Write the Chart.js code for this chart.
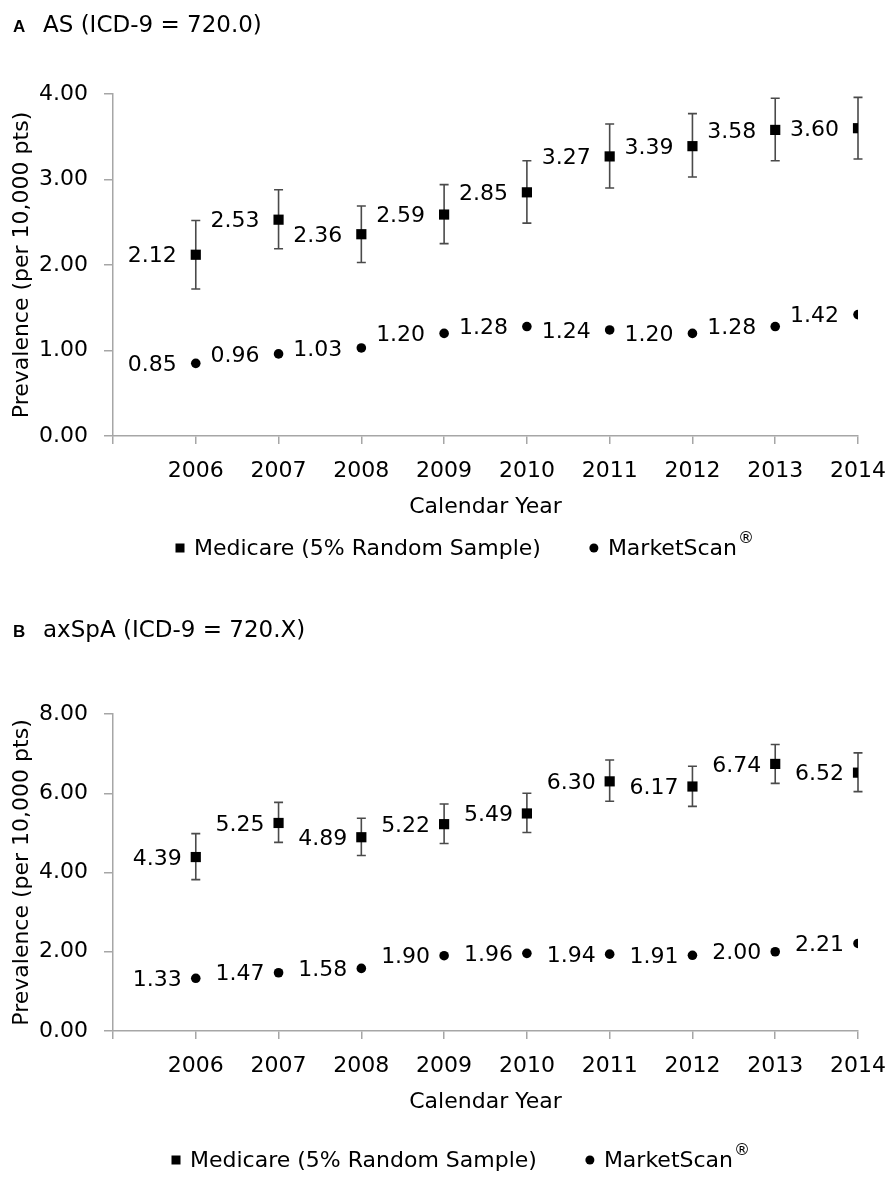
<!DOCTYPE html>
<html>
<head>
<meta charset="utf-8">
<title>Prevalence of AS and axSpA, 2006–2014</title>
<script src="https://cdn.jsdelivr.net/npm/chart.js@4.4.1/dist/chart.umd.min.js"></script>
<style>
  html, body { margin: 0; padding: 0; background: #ffffff; }
  .panel { position: absolute; left: 0; width: 896px; }
  #panelA { top: 0; height: 600px; }
  #panelB { top: 600px; height: 586px; }
  canvas { display: block; }
</style>
</head>
<body>
<div class="panel" id="panelA"><canvas id="chartA" width="896" height="600"></canvas></div>
<div class="panel" id="panelB"><canvas id="chartB" width="896" height="586"></canvas></div>

<script>
// Calendar years shown on the x axis
const years = [2006, 2007, 2008, 2009, 2010, 2011, 2012, 2013, 2014];

// Panel A: AS (ICD-9 = 720.0), prevalence per 10,000 patients
const asMedicare      = [2.12, 2.53, 2.36, 2.59, 2.85, 3.27, 3.39, 3.58, 3.60];
const asMedicareLow   = [1.72, 2.19, 2.03, 2.25, 2.49, 2.90, 3.03, 3.22, 3.24];
const asMedicareHigh  = [2.52, 2.88, 2.69, 2.94, 3.22, 3.65, 3.77, 3.95, 3.96];
const asMarketScan    = [0.85, 0.96, 1.03, 1.20, 1.28, 1.24, 1.20, 1.28, 1.42];
const asYTicks        = [0, 1, 2, 3, 4];

// Panel B: axSpA (ICD-9 = 720.X), prevalence per 10,000 patients
const axMedicare      = [4.39, 5.25, 4.89, 5.22, 5.49, 6.30, 6.17, 6.74, 6.52];
const axMedicareLow   = [3.82, 4.76, 4.43, 4.73, 5.01, 5.80, 5.67, 6.25, 6.04];
const axMedicareHigh  = [4.98, 5.77, 5.37, 5.73, 6.00, 6.84, 6.68, 7.23, 7.02];
const axMarketScan    = [1.33, 1.47, 1.58, 1.90, 1.96, 1.94, 1.91, 2.00, 2.21];
const axYTicks        = [0, 2, 4, 6, 8];

const seriesNames = ['Medicare (5% Random Sample)', 'MarketScan'];

const FONT = "'DejaVu Sans', Verdana, sans-serif";
const AXIS_GREY = '#a6a6a6';
Chart.defaults.font.family = FONT;
Chart.defaults.font.size = 22;
Chart.defaults.color = '#000000';

// Vertical confidence bars with short caps, drawn underneath the markers
const errorBars = {
  id: 'errorBars',
  beforeDatasetsDraw(chart) {
    const { ctx, scales: { x, y } } = chart;
    chart.data.datasets.forEach(ds => {
      if (!ds.ciLow) return;
      ctx.save();
      ctx.strokeStyle = '#4a4a4a';
      ctx.lineWidth = 1.6;
      ds.data.forEach((p, i) => {
        const px = x.getPixelForValue(p.x);
        const yLo = y.getPixelForValue(ds.ciLow[i]);
        const yHi = y.getPixelForValue(ds.ciHigh[i]);
        ctx.beginPath();
        ctx.moveTo(px, yLo); ctx.lineTo(px, yHi);
        ctx.moveTo(px - 4.5, yLo); ctx.lineTo(px + 4.5, yLo);
        ctx.moveTo(px - 4.5, yHi); ctx.lineTo(px + 4.5, yHi);
        ctx.stroke();
      });
      ctx.restore();
    });
  }
};

// Value written to the left of every marker
const valueLabels = {
  id: 'valueLabels',
  afterDatasetsDraw(chart, args, opts) {
    const { ctx, scales: { x, y } } = chart;
    ctx.save();
    ctx.font = '22px ' + FONT;
    ctx.fillStyle = '#000';
    ctx.textAlign = 'right';
    ctx.textBaseline = 'middle';
    chart.data.datasets.forEach(ds => {
      ds.data.forEach(p => {
        ctx.fillText(p.y.toFixed(2), x.getPixelForValue(p.x) - opts.gap, y.getPixelForValue(p.y) + 2);
      });
    });
    ctx.restore();
  }
};

// Panel letter and heading above the plot
const panelTitle = {
  id: 'panelTitle',
  afterDraw(chart, args, opts) {
    const { ctx } = chart;
    ctx.save();
    ctx.fillStyle = '#000';
    ctx.textAlign = 'left';
    ctx.textBaseline = 'alphabetic';
    ctx.font = "bold 17px 'Liberation Sans', Arial, sans-serif";
    ctx.fillText(opts.letter, 13, opts.baseline);
    ctx.font = '23px ' + FONT;
    ctx.fillText(opts.text, 43, opts.baseline);
    ctx.restore();
  }
};

// One-row legend under the axis title: marker + series name
const legendRow = {
  id: 'legendRow',
  afterDraw(chart, args, opts) {
    const { ctx, chartArea } = chart;
    const cy = chartArea.bottom + opts.offset;
    ctx.save();
    ctx.fillStyle = '#000';
    ctx.textBaseline = 'middle';
    ctx.textAlign = 'left';
    let xPos = opts.startX;
    chart.data.datasets.forEach((ds, i) => {
      if (i > 0) xPos += opts.itemGap;
      if (ds.pointStyle === 'rect') {
        ctx.fillRect(xPos - 4.5, cy - 4.5, 9, 9);
      } else {
        ctx.beginPath();
        ctx.arc(xPos, cy, 4.5, 0, Math.PI * 2);
        ctx.fill();
      }
      xPos += 14;
      ctx.font = '22px ' + FONT;
      ctx.fillText(ds.label, xPos, cy + 1);
      xPos += ctx.measureText(ds.label).width;
      if (ds.legendMark) {
        ctx.font = '16px ' + FONT;
        ctx.fillText(ds.legendMark, xPos + 1, cy - 9);
        xPos += ctx.measureText(ds.legendMark).width;
      }
    });
    ctx.restore();
  }
};

function points(values) {
  return years.map((yr, i) => ({ x: yr, y: values[i] }));
}

function makePanel(id, cfg) {
  const axisGrid = {
    drawOnChartArea: false,
    drawTicks: true,
    color: AXIS_GREY,
    lineWidth: 1.5
  };
  return new Chart(document.getElementById(id), {
    type: 'scatter',
    data: {
      datasets: [
        {
          label: seriesNames[0],
          data: points(cfg.medicare),
          ciLow: cfg.low,
          ciHigh: cfg.high,
          pointStyle: 'rect',
          pointRadius: 7.2,
          pointHoverRadius: 7.2,
          pointBorderWidth: 0,
          backgroundColor: '#000',
          borderColor: '#000'
        },
        {
          label: seriesNames[1],
          legendMark: '\u00AE',
          data: points(cfg.marketScan),
          pointStyle: 'circle',
          pointRadius: 4.8,
          pointHoverRadius: 4.8,
          pointBorderWidth: 0,
          backgroundColor: '#000',
          borderColor: '#000'
        }
      ]
    },
    options: {
      responsive: false,
      animation: false,
      events: [],
      layout: { padding: { left: 0, right: 38, top: cfg.padTop, bottom: cfg.padBottom } },
      plugins: {
        legend: { display: false },
        tooltip: { enabled: false },
        valueLabels: { gap: cfg.labelGap },
        panelTitle: { letter: cfg.letter, text: cfg.title, baseline: cfg.titleBaseline },
        legendRow: { offset: cfg.legendOffset, startX: cfg.legendX, itemGap: 53 }
      },
      scales: {
        x: {
          type: 'linear',
          min: 2005,
          max: 2014,
          afterBuildTicks: s => { s.ticks = [2005].concat(years).map(v => ({ value: v })); },
          ticks: {
            callback: v => (v === 2005 ? '' : String(v)),
            autoSkip: false,
            maxRotation: 0,
            padding: 14,
            color: '#000',
            font: { size: 22 }
          },
          grid: Object.assign({ tickLength: 8 }, axisGrid),
          border: { display: true, color: AXIS_GREY, width: 1.5 },
          title: { display: true, text: 'Calendar Year', color: '#000', font: { size: 22 }, padding: 0 },
          afterFit: s => { s.height = 84; s.paddingLeft = 0; s.paddingRight = 0; }
        },
        y: {
          min: cfg.yTicks[0],
          max: cfg.yTicks[cfg.yTicks.length - 1],
          afterBuildTicks: s => { s.ticks = cfg.yTicks.map(v => ({ value: v })); },
          ticks: {
            callback: v => Number(v).toFixed(2),
            padding: 16,
            color: '#000',
            font: { size: 22 }
          },
          grid: Object.assign({ tickLength: 9 }, axisGrid),
          border: { display: true, color: AXIS_GREY, width: 1.5 },
          title: { display: true, text: 'Prevalence (per 10,000 pts)', color: '#000', font: { size: 22 }, padding: { top: 9, bottom: 0 } },
          afterFit: s => { s.width = 113; s.paddingTop = 0; s.paddingBottom = 0; }
        }
      }
    },
    plugins: [errorBars, valueLabels, panelTitle, legendRow]
  });
}

makePanel('chartA', {
  letter: 'A', title: 'AS (ICD-9 = 720.0)', titleBaseline: 32,
  medicare: asMedicare, low: asMedicareLow, high: asMedicareHigh, marketScan: asMarketScan,
  yTicks: asYTicks, padTop: 94, padBottom: 80,
  labelGap: 19, legendOffset: 112, legendX: 180
});

makePanel('chartB', {
  letter: 'B', title: 'axSpA (ICD-9 = 720.X)', titleBaseline: 37,
  medicare: axMedicare, low: axMedicareLow, high: axMedicareHigh, marketScan: axMarketScan,
  yTicks: axYTicks, padTop: 114, padBottom: 71,
  labelGap: 14, legendOffset: 129, legendX: 176
});
</script>
</body>
</html>
